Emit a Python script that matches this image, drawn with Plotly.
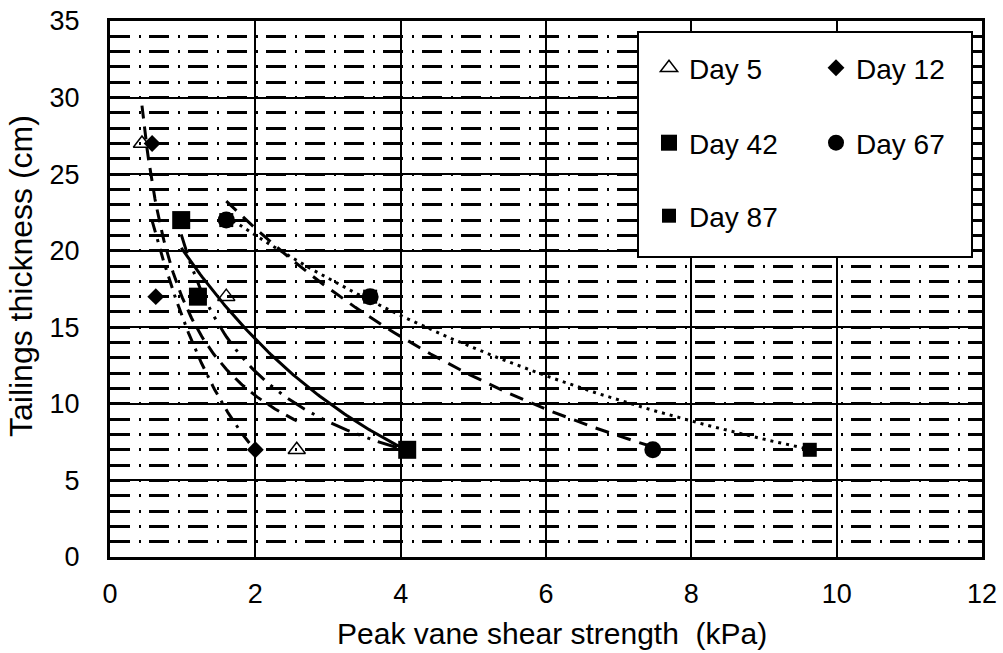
import numpy as np
import plotly.graph_objects as go

# Peak vane shear strength (kPa) and tailings thickness (cm) per curing age
day5_x = [0.44, 1.60, 2.57]
day5_y = [27, 17, 7]
day12_x = [0.58, 0.63, 2.00]
day12_y = [27, 17, 7]
day42_x = [0.98, 1.21, 4.09]
day42_y = [22, 17, 7]
day67_x = [1.60, 3.58, 7.47]
day67_y = [22, 17, 7]
day87_x = [1.60, 3.58, 9.63]
day87_y = [22, 17, 7]

x_ticks = [0, 2, 4, 6, 8, 10, 12]
y_ticks = [0, 5, 10, 15, 20, 25, 30, 35]

FONT = "Liberation Sans, Arial, sans-serif"
W, H = 1003, 653
ML, MR, MT, MB = 110, 21, 21, 96


def exp_trend(xs, ys, n=120):
    xs, ys = np.asarray(xs, float), np.asarray(ys, float)
    b, lna = np.polyfit(xs, np.log(ys), 1)
    xx = np.linspace(xs.min(), xs.max(), n)
    return xx, np.exp(lna) * np.exp(b * xx)


def power_trend(xs, ys, n=120):
    xs, ys = np.asarray(xs, float), np.asarray(ys, float)
    b, lna = np.polyfit(np.log(xs), np.log(ys), 1)
    xx = np.linspace(xs.min(), xs.max(), n)
    return xx, np.exp(lna) * xx ** b


fig = go.Figure()

# trendlines
trends = [
    (power_trend(day5_x, day5_y), "13px,8px"),
    (exp_trend(day12_x, day12_y), "12px,7px,3px,7px"),
    (power_trend(day42_x, day42_y), "20px,8px,3px,8px,3px,8px"),
    (exp_trend(day42_x, day42_y), "solid"),
    (exp_trend(day67_x, day67_y), "14px,9px"),
    (exp_trend(day87_x, day87_y), "3px,5px"),
]
for (tx, ty), dash in trends:
    fig.add_trace(go.Scatter(x=tx, y=ty, mode="lines", showlegend=False,
                             hoverinfo="skip",
                             line=dict(color="black", width=3, dash=dash)))

series = [
    ("Day 5", day5_x, day5_y, "triangle-up-open", 15, "legend"),
    ("Day 12", day12_x, day12_y, "diamond", 13, "legend2"),
    ("Day 42", day42_x, day42_y, "square", 18, "legend3"),
    ("Day 67", day67_x, day67_y, "circle", 17, "legend4"),
    ("Day 87", day87_x, day87_y, "square", 14, "legend5"),
]
for name, xs, ys, sym, size, leg in series:
    fig.add_trace(go.Scatter(
        x=xs, y=ys, mode="markers", name=name, legend=leg,
        marker=dict(symbol=sym, size=size, color="black",
                    line=dict(color="black", width=1.5 if "open" in sym else 0)),
    ))


def px_x(p):
    return (p - ML) / (W - ML - MR)


def px_y(p):
    return (H - MB - p) / (H - MT - MB)


# legend frame
fig.add_shape(type="rect", xref="paper", yref="paper",
              x0=px_x(638), x1=px_x(972), y0=px_y(257), y1=px_y(32),
              fillcolor="white", line=dict(color="black", width=2), layer="above")

leg_font = dict(family=FONT, size=28, color="black")
slots = {"legend": (649, 68), "legend2": (816, 68), "legend3": (649, 143),
         "legend4": (816, 143), "legend5": (649, 216)}
leg_layout = {}
for key, (lx, ly) in slots.items():
    leg_layout[key] = dict(x=lx / W, y=1 - ly / H, xref="container", yref="container",
                           xanchor="left", yanchor="middle", bgcolor="rgba(0,0,0,0)",
                           borderwidth=0, font=leg_font, itemsizing="trace")

# axis titles
fig.add_annotation(text="Tailings thickness (cm)", textangle=-90,
                   xref="paper", yref="paper", x=px_x(21), y=px_y(276),
                   xanchor="center", yanchor="middle", showarrow=False,
                   font=dict(family=FONT, size=32, color="black"))
fig.add_annotation(text="Peak vane shear strength  (kPa)",
                   xref="paper", yref="paper", x=px_x(552), y=px_y(633),
                   xanchor="center", yanchor="middle", showarrow=False,
                   font=dict(family=FONT, size=30, color="black"))

axis_common = dict(showline=True, linecolor="black", linewidth=3, mirror=True,
                   showgrid=True, gridcolor="black", gridwidth=2, zeroline=False,
                   ticks="", tickfont=dict(family=FONT, size=27, color="black"))

fig.update_layout(
    width=W, height=H, margin=dict(l=ML, r=MR, t=MT, b=MB, autoexpand=False),
    paper_bgcolor="white", plot_bgcolor="white",
    font=dict(family=FONT, color="black"),
    xaxis=dict(range=[0, 12], tickvals=x_ticks, ticktext=[str(v) for v in x_ticks],
               ticklabelstandoff=11, **axis_common),
    yaxis=dict(range=[0, 35], tickvals=y_ticks, ticktext=[str(v) for v in y_ticks],
               ticklabelstandoff=22,
               minor=dict(dtick=1, showgrid=True, gridcolor="black", gridwidth=2.5,
                          griddash="20px,9px,2px,8px"),
               **axis_common),
    **leg_layout,
)

fig.write_html("out.html")
